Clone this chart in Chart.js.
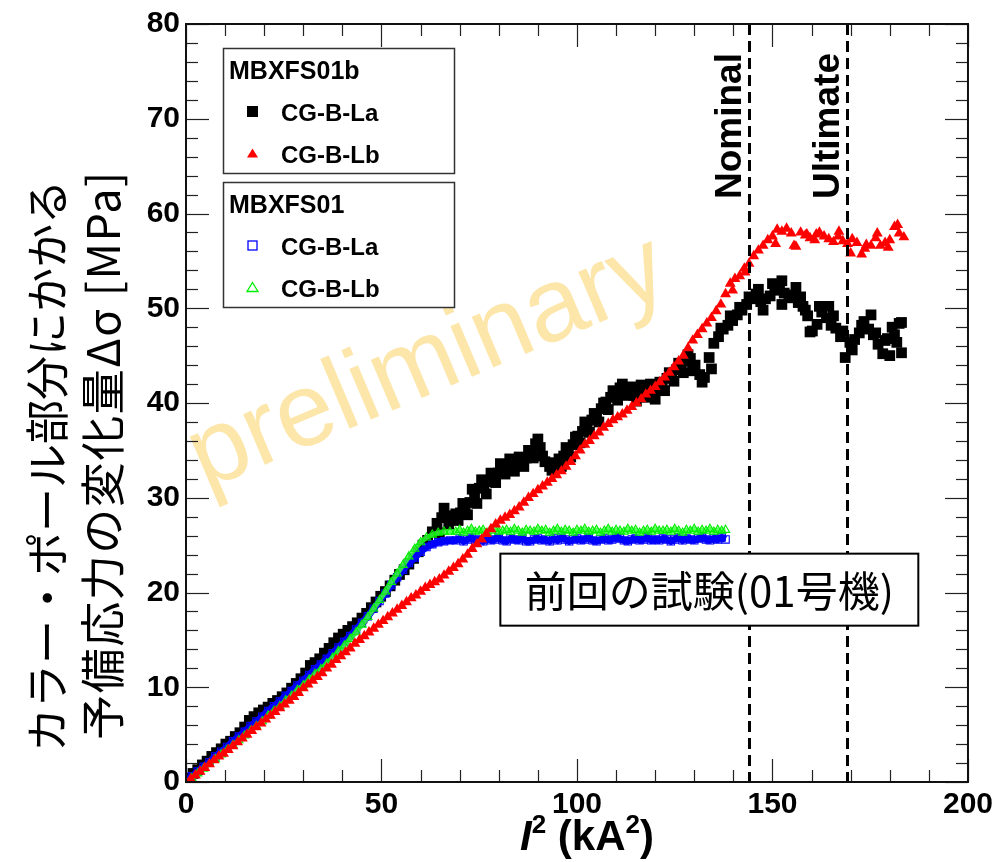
<!DOCTYPE html>
<html><head><meta charset="utf-8">
<script src="https://cdn.jsdelivr.net/npm/chart.js@4.4.1/dist/chart.umd.min.js"></script>
<style>html,body{margin:0;padding:0;background:#fff;}canvas{display:block;}</style>
</head><body>
<canvas id="c" width="998" height="862"></canvas>
<script>
// ---------- axis ticks ----------
const xMajorTicks = [0, 50, 100, 150, 200];
const xMinorTicks = [10,20,30,40,60,70,80,90,110,120,130,140,160,170,180,190];
const yMajorTicks = [0,10,20,30,40,50,60,70,80];
const yMinorTicks = [2,4,6,8,12,14,16,18,22,24,26,28,32,34,36,38,42,44,46,48,52,54,56,58,62,64,66,68,72,74,76,78];

// ---------- reference lines ----------
const refLineX = [144, 169];
const refLineLabels = ['Nominal', 'Ultimate'];

// ---------- legend / text ----------
const groupTitles = ['MBXFS01b', 'MBXFS01'];
const seriesNames = ['CG-B-La', 'CG-B-Lb'];
const yTitleLines = ['カラー・ポール部分にかかる', '予備応力の変化量Δσ [MPa]'];
const noteText = '前回の試験(01号機)';
const watermarkText = 'preliminary';

// ---------- MBXFS01b CG-B-La (black squares) ----------
const blackX = [0,0.8,1.8,3,4.2,5.4,6.6,7.8,9,10.2,
 11.4,12.6,13.8,15,16.2,17.4,18.6,19.8,21,22.2,
 23.4,24.6,25.8,27,28.2,29.4,30.6,31.8,33,34.2,
 35.4,36.6,37.8,39,40.2,41.4,42.6,43.8,45,46.2,
 47.4,48.6,49.8,51,52.2,53.4,54.6,55.8,57,58.2,
 59.4,60.6,61.8,63,64.2,65.4,66.6,67.8,69,70.2,
 71.4,72.6,73.8,75,76.2,77.4,78.6,79.8,81,82.2,
 83.4,84.6,85.8,87,88.2,89.4,90.6,91.8,93,94.2,
 95.4,96.6,97.8,99,100.2,101.4,102.6,103.8,105,106.2,
 107.4,108.6,109.8,111,112.2,113.4,114.6,115.8,117,118.2,
 119.4,120.6,121.8,123,124.2,125.4,126.6,127.8,129,130.2,
 131.4,132.6,133.8,135,136.2,137.4,138.6,139.8,141,142.2,
 143.4,144.6,145.8,147,148.2,149.4,150.6,151.8,153,154.2,
 155.4,156.6,157.8,159,160.2,161.4,162.6,163.8,165,166.2,
 167.4,168.6,169.8,171,172.2,173.4,174.6,175.8,177,178.2,
 179.4,180.6,181.8,183,
 147.6,152.4,156,159.6,164.4,170.4,175.2,178.8,180,182.4,
 64.8,67.2,69.6,72,74.4,76.8,79.2,81.6,84,86.4,
 88.8,91.2,93.6,96,98.4,100.8,103.2,105.6,108,110.4,
 112.8,115.2,117.6,120,122.4,124.8,127.2,129.6,132,134.4,
 66,70.8,73.2,75.6,78,80.4,82.8,85.2,87.6,90,
 97.2,99.6,102,104.4,106.8,109.2,111.6,114,116.4,118.8,
 121.2,123.6,126,128.4,136.8,139.2,141.6,144,146.4,150,
 152.4,157.2,158.4,162,165.6,168,172.8,176.4,181.2,183];
const blackY = [0.1,0.4,0.9,1.3,1.8,2.2,2.7,3.1,3.5,4.0,
 4.3,4.8,5.2,5.8,6.5,6.9,7.3,7.6,7.9,8.3,
 8.6,9.0,9.4,9.9,10.4,10.9,11.5,12.3,12.6,13.0,
 13.6,14.1,14.7,15.2,15.6,16.0,16.4,16.8,17.3,17.8,
 18.4,19.0,19.6,20.1,20.7,21.3,21.9,22.4,23.0,23.6,
 24.3,25.0,25.5,26.4,27.3,27.9,28.1,27.9,28.3,28.4,
 28.8,29.5,30.3,31.0,31.4,31.7,32.1,32.6,33.2,33.4,
 33.1,33.6,33.9,34.2,35.0,35.7,35.3,33.8,33.3,33.7,
 34.1,34.4,34.6,35.6,36.5,37.0,37.6,38.2,38.6,39.4,
 40.1,40.6,41.0,41.6,41.4,41.0,40.8,41.3,41.6,41.2,
 40.8,41.4,42.1,42.6,43.0,43.5,44.0,44.4,44.7,44.0,
 43.0,42.7,44.8,46.3,47.0,47.8,48.2,48.7,49.3,49.8,
 50.4,51.0,51.5,50.7,51.0,51.3,51.9,52.3,51.6,51.1,
 51.4,50.6,50.2,49.2,47.6,48.3,49.6,49.0,48.2,47.9,
 47.0,44.8,46.4,46.7,47.4,48.6,47.8,47.2,46.2,45.2,
 46.8,48.0,46.4,45.3,
 49.8,50.4,52.2,47.5,50.2,45.6,49.3,46.6,45.0,48.4,
 26.3,27.2,27.6,28.2,29.4,30.4,31.6,32.5,32.8,33.3,
 34.2,34.4,32.9,33.3,34.3,35.8,36.9,38.0,39.3,40.3,
 40.8,40.2,40.6,40.4,41.3,42.3,43.2,43.4,42.2,43.6,
 28.9,29.4,30.9,31.9,32.6,33.6,34.1,34.3,35.0,36.2,
 35.3,36.4,38.0,38.9,40.0,41.3,42.0,41.7,41.9,42.0,
 42.2,43.2,44.2,45.1,47.9,49.2,50.1,51.2,52.0,52.6,
 52.9,51.2,49.8,50.2,49.2,47.6,48.2,47.4,47.2,48.5];

// ---------- MBXFS01b CG-B-Lb (red triangles) ----------
const redX = [0,1.2,2.4,3.6,4.8,6,7.2,8.4,9.6,10.8,
 12,13.2,14.4,15.6,16.8,18,19.2,20.4,21.6,22.8,
 24,25.2,26.4,27.6,28.8,30,31.2,32.4,33.6,34.8,
 36,37.2,38.4,39.6,40.8,42,43.2,44.4,45.6,46.8,
 48,49.2,50.4,51.6,52.8,54,55.2,56.4,57.6,58.8,
 60,61.2,62.4,63.6,64.8,66,67.2,68.4,69.6,70.8,
 72,73.2,74.4,75.6,76.8,78,79.2,80.4,81.6,82.8,
 84,85.2,86.4,87.6,88.8,90,91.2,92.4,93.6,94.8,
 96,97.2,98.4,99.6,100.8,102,103.2,104.4,105.6,106.8,
 108,109.2,110.4,111.6,112.8,114,115.2,116.4,117.6,118.8,
 120,121.2,122.4,123.6,124.8,126,127.2,128.4,129.6,130.8,
 132,133.2,134.4,135.6,136.8,138,139.2,140.4,141.6,142.8,
 144,145.2,146.4,147.6,148.8,150,151.2,152.4,153.6,154.8,
 156,157.2,158.4,159.6,160.8,162,163.2,164.4,165.6,166.8,
 168,169.2,170.4,171.6,172.8,174,175.2,176.4,177.6,178.8,
 180,181.2,182.4,183.6,
 139.8,143,150.8,155.5,158.8,161.2,167,170,173.6,179.6,182,176.8];
const redY = [0,0.3,0.7,1.1,1.5,1.9,2.3,2.7,3.0,3.4,
 3.8,4.2,4.6,5.0,5.4,5.8,6.2,6.6,7.0,7.4,
 7.8,8.2,8.6,9.0,9.4,9.9,10.3,10.7,11.1,11.5,
 12.0,12.4,12.9,13.3,13.7,14.1,14.6,15.0,15.4,15.8,
 16.2,16.6,17.0,17.4,17.8,18.2,18.6,19.0,19.4,19.7,
 20.1,20.5,20.8,21.1,21.4,21.8,22.2,22.6,23.0,23.5,
 24.0,24.6,25.1,25.6,26.2,26.7,27.2,27.6,27.9,28.2,
 28.6,29.0,29.5,30.0,30.4,30.8,31.2,31.6,32.0,32.4,
 32.8,33.3,33.8,34.4,35.0,35.6,36.0,36.5,36.9,37.4,
 37.8,38.2,38.5,38.8,39.2,39.6,40.0,40.4,40.9,41.3,
 41.7,42.2,42.7,43.2,43.8,44.4,45.0,45.8,46.6,47.2,
 47.8,48.4,49.0,49.7,50.4,51.5,52.6,53.1,53.4,54.2,
 54.7,55.5,56.1,56.6,57.2,57.6,58.3,58.1,58.4,57.9,
 56.5,58.0,57.7,57.4,57.2,58.0,57.6,57.3,57.0,57.6,
 57.1,56.8,57.3,56.9,55.7,56.7,56.6,57.4,56.6,56.9,
 57.2,58.6,57.9,57.5,
 51.9,53.8,56.8,56.6,57.8,57.8,58.1,55.8,56.3,56.4,58.8,57.9];

// ---------- MBXFS01 (previous test): shared current axis ----------
const oldX = [0,1.5,3,4.5,6,7.5,9,10.5,12,13.5,
 15,16.5,18,19.5,21,22.5,24,25.5,27,28.5,
 30,31.5,33,34.5,36,37.5,39,40.5,42,43.5,
 45,46.5,48,49.5,51,52.5,54,55.5,57,58.5,
 60,61.5,63,64.5,66,67.5,
 69,70,71,72,73,74,75,76,77,78,
 79,80,81,82,83,84,85,86,87,88,
 89,90,91,92,93,94,95,96,97,98,
 99,100,101,102,103,104,105,106,107,108,
 109,110,111,112,113,114,115,116,117,118,
 119,120,121,122,123,124,125,126,127,128,
 129,130,131,132,133,134,135,136,137,138];
// MBXFS01 CG-B-La (blue open squares)
const blueY = [0.1,0.6,1.1,1.6,2.1,2.7,3.2,3.7,4.3,4.8,
 5.3,5.9,6.4,6.9,7.5,8.0,8.5,9.1,9.6,10.2,
 10.7,11.3,11.9,12.4,13.0,13.6,14.2,14.8,15.4,16.1,
 16.8,17.5,18.3,19.1,19.9,20.8,21.6,22.4,23.1,23.7,
 24.3,24.8,25.1,25.3,25.4,25.5,
 25.5,25.7,25.4,25.6,25.8,25.5,25.6,25.4,25.7,25.5,
 25.6,25.8,25.5,25.4,25.7,25.6,25.5,25.8,25.4,25.4,
 25.6,25.7,25.5,25.6,25.4,25.7,25.5,25.8,25.6,25.4,
 25.6,25.7,25.5,25.6,25.8,25.5,25.4,25.6,25.7,25.5,
 25.6,25.8,25.7,25.5,25.4,25.6,25.7,25.5,25.6,25.8,
 25.5,25.6,25.5,25.7,25.6,25.4,25.6,25.8,25.5,25.7,
 25.6,25.5,25.7,25.8,25.6,25.5,25.7,25.6,25.8,25.6];
// MBXFS01 CG-B-Lb (green open triangles)
const greenY = [0,0.4,0.9,1.4,1.9,2.4,2.9,3.4,3.9,4.4,
 4.9,5.4,5.9,6.4,7.0,7.5,8.0,8.6,9.1,9.7,
 10.2,10.8,11.4,11.9,12.5,13.1,13.8,14.4,15.1,15.8,
 16.6,17.4,18.3,19.2,20.1,21.1,22.0,22.9,23.8,24.6,
 25.3,25.8,26.1,26.3,26.4,26.4,
 26.4,26.6,26.3,26.5,26.7,26.4,26.5,26.6,26.3,26.5,
 26.7,26.4,26.5,26.6,26.4,26.7,26.5,26.3,26.6,26.5,
 26.4,26.7,26.5,26.6,26.3,26.5,26.7,26.4,26.6,26.5,
 26.3,26.6,26.5,26.7,26.4,26.5,26.6,26.3,26.5,26.7,
 26.4,26.6,26.5,26.4,26.7,26.5,26.6,26.3,26.5,26.6,
 26.4,26.7,26.5,26.5,26.6,26.4,26.7,26.5,26.3,26.6,
 26.5,26.7,26.4,26.6,26.5,26.7,26.4,26.6,26.5,26.6];

const toPts = (xs, ys) => xs.map((x, i) => ({x: x, y: ys[i]}));
const LAT = '"Liberation Sans", Arial, sans-serif';
const CJK = '"Noto Sans CJK JP", "Noto Sans CJK SC", sans-serif';

const deco = {
  id: 'deco',
  beforeDraw(chart) {
    const c = chart.ctx; c.save(); c.fillStyle = '#fff'; c.fillRect(0, 0, chart.width, chart.height); c.restore();
  },
  beforeDatasetsDraw(chart) {
    const c = chart.ctx, xs = chart.scales.x, ys = chart.scales.y;
    c.save();
    c.translate(xs.getPixelForValue(64.7), ys.getPixelForValue(41.3));
    c.rotate(-23 * Math.PI / 180);
    c.font = '104px ' + LAT;
    c.fillStyle = 'rgba(252,210,100,0.55)';
    c.textAlign = 'center'; c.textBaseline = 'alphabetic';
    c.fillText(watermarkText, 0, 0);
    c.restore();
  },
  afterDatasetsDraw(chart) {
    const c = chart.ctx, ca = chart.chartArea, xs = chart.scales.x, ys = chart.scales.y;
    c.save();
    c.strokeStyle = '#000'; c.lineWidth = 3; c.setLineDash([11, 6]);
    refLineX.forEach(v => {
      const px = Math.round(xs.getPixelForValue(v)) + 0.5;
      c.beginPath(); c.moveTo(px, ca.top); c.lineTo(px, ca.bottom); c.stroke();
    });
    c.setLineDash([]);
    c.font = 'bold 37px ' + LAT; c.fillStyle = '#000';
    c.textAlign = 'left'; c.textBaseline = 'alphabetic';
    refLineX.forEach((v, i) => {
      const px = xs.getPixelForValue(v);
      c.save(); c.translate(px - 8, 199); c.rotate(-Math.PI / 2);
      c.fillText(refLineLabels[i], 0, 0); c.restore();
    });
    const bx0 = xs.getPixelForValue(80.4), bx1 = xs.getPixelForValue(187.3);
    const by0 = ys.getPixelForValue(24.1), by1 = ys.getPixelForValue(16.5);
    c.fillStyle = '#fff'; c.fillRect(bx0, by0, bx1 - bx0, by1 - by0);
    c.strokeStyle = '#000'; c.lineWidth = 2; c.strokeRect(bx0, by0, bx1 - bx0, by1 - by0);
    c.fillStyle = '#000'; c.font = '42px ' + CJK; c.textAlign = 'center'; c.textBaseline = 'middle';
    c.fillText(noteText, (bx0 + bx1) / 2, (by0 + by1) / 2 + 1);
    c.restore();
  },
  afterDraw(chart) {
    const c = chart.ctx, ca = chart.chartArea, xs = chart.scales.x, ys = chart.scales.y;
    c.save();
    c.strokeStyle = '#222'; c.lineWidth = 1.2;
    const seg = (x0, y0, x1, y1) => { c.beginPath(); c.moveTo(x0, y0); c.lineTo(x1, y1); c.stroke(); };
    const xt = (v, L) => { const p = Math.round(xs.getPixelForValue(v)) + 0.5; seg(p, ca.bottom, p, ca.bottom - L); seg(p, ca.top, p, ca.top + L); };
    const yt = (v, L) => { const p = Math.round(ys.getPixelForValue(v)) + 0.5; seg(ca.left, p, ca.left + L, p); seg(ca.right, p, ca.right - L, p); };
    xMajorTicks.forEach(v => xt(v, 23)); xMinorTicks.forEach(v => xt(v, 12));
    yMajorTicks.forEach(v => yt(v, 23)); yMinorTicks.forEach(v => yt(v, 12));
    c.strokeStyle = '#111'; c.lineWidth = 2;
    c.strokeRect(ca.left, ca.top, ca.right - ca.left, ca.bottom - ca.top);

    // legend boxes
    const ds = chart.data.datasets;
    const boxes = [{y: 48.5, items: [ds[3], ds[0]]}, {y: 182.5, items: [ds[2], ds[1]]}];
    boxes.forEach((b, gi) => {
      c.fillStyle = '#fff'; c.fillRect(223.5, b.y, 231, 125);
      c.strokeStyle = '#333'; c.lineWidth = 1.5; c.strokeRect(223.5, b.y, 231, 125);
      c.fillStyle = '#000'; c.font = 'bold 25px ' + LAT; c.textAlign = 'left'; c.textBaseline = 'alphabetic';
      c.fillText(groupTitles[gi], 229, b.y + 30);
      b.items.forEach((d, k) => {
        const cy = b.y + 63 + k * 42;
        const cx = 252.5;
        c.lineWidth = 1.3;
        if (d.pointStyle === 'rect') {
          if (d._filled) { c.fillStyle = d.pointBackgroundColor; c.fillRect(cx - 5.5, cy - 5.5, 11, 11); }
          else { c.strokeStyle = d.pointBorderColor; c.strokeRect(cx - 4.5, cy - 4.5, 9, 9); }
        } else {
          c.beginPath(); c.moveTo(cx, cy - 5); c.lineTo(cx + 5.5, cy + 4); c.lineTo(cx - 5.5, cy + 4); c.closePath();
          if (d._filled) { c.fillStyle = d.pointBackgroundColor; c.fill(); } else { c.strokeStyle = d.pointBorderColor; c.stroke(); }
        }
        c.fillStyle = '#000'; c.font = 'bold 24px ' + LAT;
        c.fillText(seriesNames[k], 281, cy + 9);
      });
    });

    // y-axis title (two rotated lines)
    c.fillStyle = '#000'; c.textAlign = 'center'; c.textBaseline = 'middle';
    const yFonts = ['44px ' + CJK, '45px ' + CJK];
    const ySpacing = ['0px', '1.5px'];
    [[47, 466], [103, 455]].forEach((p, i) => {
      c.save(); c.font = yFonts[i]; c.letterSpacing = ySpacing[i];
      c.translate(p[0], p[1]); c.rotate(-Math.PI / 2); c.fillText(yTitleLines[i], 0, 0); c.restore();
    });

    // x-axis title: I^2 (kA^2)
    const parts = [['I', 'italic bold 42px ' + LAT, 0], ['2', 'bold 26px ' + LAT, -17], [' (kA', 'bold 42px ' + LAT, 0], ['2', 'bold 26px ' + LAT, -17], [')', 'bold 42px ' + LAT, 0]];
    let tw = 0; parts.forEach(p => { c.font = p[1]; p.push(c.measureText(p[0]).width); tw += p[3]; });
    let x = 587 - tw / 2; c.textAlign = 'left'; c.textBaseline = 'alphabetic';
    parts.forEach(p => { c.font = p[1]; c.fillText(p[0], x, 850 + p[2]); x += p[3]; });
    c.restore();
  }
};

const datasets = [
  {label: 'MBXFS01b CG-B-Lb', data: toPts(redX, redY), showLine: false, pointStyle: 'triangle', pointRadius: 6.3,
   pointBackgroundColor: '#ff0000', pointBorderColor: '#ff0000', pointBorderWidth: 0, _filled: true},
  {label: 'MBXFS01 CG-B-Lb', data: toPts(oldX, greenY), showLine: true, borderColor: 'rgba(60,255,60,0.85)', borderWidth: 5,
   pointStyle: 'triangle', pointRadius: 4.8, pointBackgroundColor: 'rgba(0,0,0,0)', pointBorderColor: '#00ee00', pointBorderWidth: 1.1, _filled: false},
  {label: 'MBXFS01 CG-B-La', data: toPts(oldX, blueY), showLine: true, borderColor: '#0000ff', borderWidth: 7,
   pointStyle: 'rect', pointRadius: 5.2, pointBackgroundColor: 'rgba(0,0,0,0)', pointBorderColor: '#0000ff', pointBorderWidth: 1.1, _filled: false},
  {label: 'MBXFS01b CG-B-La', data: toPts(blackX, blackY), showLine: false, pointStyle: 'rect', pointRadius: 7.6,
   pointBackgroundColor: '#000000', pointBorderColor: '#000000', pointBorderWidth: 0, _filled: true}
];

const tickFont = {family: LAT, size: 30, weight: 'bold'};
new Chart(document.getElementById('c'), {
  type: 'scatter',
  data: {datasets: datasets},
  options: {
    responsive: false, animation: false, devicePixelRatio: 1, events: [],
    layout: {padding: {top: 21, right: 27, left: 0, bottom: 0}},
    plugins: {legend: {display: false}, tooltip: {enabled: false}},
    scales: {
      x: {type: 'linear', min: 0, max: 200,
          afterBuildTicks: s => { s.ticks = xMajorTicks.map(v => ({value: v})); },
          afterFit: s => { s.height = 80; },
          grid: {display: false, drawTicks: false}, border: {display: false},
          ticks: {font: tickFont, color: '#000', padding: 5, maxRotation: 0, autoSkip: false}},
      y: {type: 'linear', min: 0, max: 80,
          afterBuildTicks: s => { s.ticks = yMajorTicks.map(v => ({value: v})); },
          afterFit: s => { s.width = 186; },
          grid: {display: false, drawTicks: false}, border: {display: false},
          ticks: {font: tickFont, color: '#000', padding: 6, autoSkip: false}}
    }
  },
  plugins: [deco]
});
</script>
</body></html>
